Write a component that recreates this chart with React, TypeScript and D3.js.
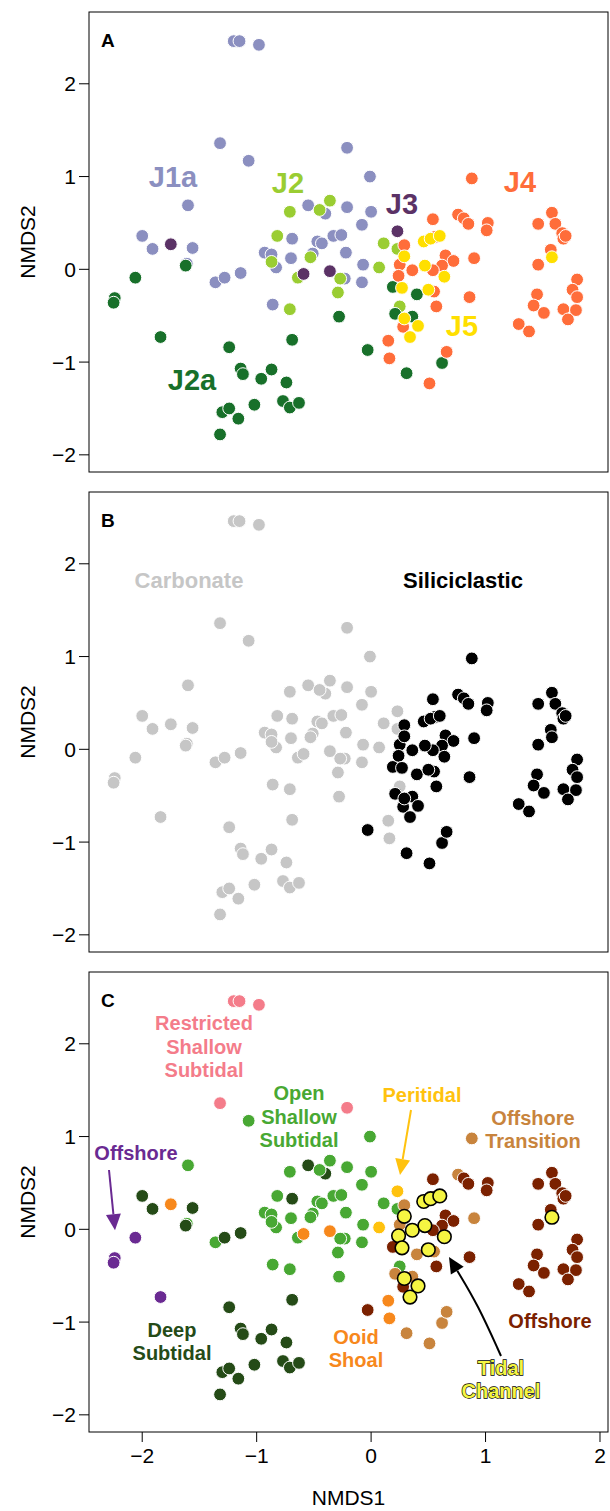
import { useEffect } from "react"
import * as d3 from "d3"

// [NMDS1, NMDS2, facies, lithology]
type Pt = [number, number, string, string]

const j1a: Pt[] = [
  [-1.2, 2.46, "R", "c"], [-1.15, 2.46, "R", "c"], [-0.98, 2.42, "R", "c"],
  [-1.32, 1.36, "R", "c"], [-1.07, 1.17, "O", "c"], [-0.21, 1.31, "R", "c"],
  [-1.6, 0.69, "O", "c"], [-0.55, 0.69, "D", "c"], [-0.4, 0.6, "D", "c"],
  [-0.21, 0.67, "O", "c"], [-2.0, 0.36, "D", "c"], [-1.91, 0.22, "D", "c"],
  [-1.56, 0.23, "D", "c"], [-1.61, 0.06, "O", "c"], [-0.69, 0.33, "D", "c"],
  [-0.47, 0.3, "O", "c"], [-0.43, 0.28, "O", "c"], [-0.33, 0.36, "O", "c"],
  [-0.26, 0.37, "O", "c"], [-1.36, -0.14, "O", "c"], [-1.28, -0.09, "D", "c"],
  [-1.14, -0.04, "D", "c"], [-0.93, 0.18, "O", "c"], [-0.87, 0.16, "O", "c"],
  [-0.7, 0.12, "O", "c"], [-0.51, 0.17, "O", "c"], [-0.83, 0.02, "O", "c"],
  [-0.23, -0.1, "O", "c"], [-0.22, 0.18, "O", "c"], [-0.86, -0.38, "O", "c"],
  [-0.01, 1.0, "O", "c"], [0.0, 0.62, "O", "c"], [-0.08, 0.48, "O", "c"],
  [-0.07, 0.05, "O", "c"], [-0.08, -0.14, "O", "c"],
]

const j2: Pt[] = [
  [-0.71, 0.62, "O", "c"], [-0.45, 0.64, "O", "c"], [-0.36, 0.74, "O", "c"],
  [-0.82, 0.36, "O", "c"], [-0.87, 0.08, "O", "c"], [-0.53, 0.13, "O", "c"],
  [-0.64, -0.09, "O", "c"], [-0.27, -0.1, "O", "c"], [-0.29, -0.25, "O", "c"],
  [-0.71, -0.43, "O", "c"], [0.07, 0.02, "P", "c"], [0.11, 0.28, "O", "c"],
  [0.23, 0.22, "O", "c"], [0.25, -0.4, "O", "c"],
]

const j2a: Pt[] = [
  [-1.62, 0.04, "D", "c"], [-2.06, -0.09, "W", "c"], [-2.24, -0.31, "W", "c"],
  [-2.25, -0.36, "W", "c"], [-1.84, -0.73, "W", "c"], [-1.24, -0.84, "D", "c"],
  [-1.14, -1.07, "D", "c"], [-1.12, -1.13, "D", "c"], [-0.96, -1.18, "D", "c"],
  [-0.87, -1.08, "D", "c"], [-0.74, -1.22, "D", "c"], [-1.02, -1.46, "D", "c"],
  [-0.77, -1.42, "D", "c"], [-0.71, -1.49, "D", "c"], [-0.63, -1.44, "D", "c"],
  [-1.3, -1.54, "D", "c"], [-1.24, -1.5, "D", "c"], [-1.16, -1.61, "D", "c"],
  [-1.32, -1.78, "D", "c"], [-0.28, -0.51, "O", "c"], [-0.69, -0.76, "D", "c"],
  [0.19, -0.19, "E", "s"], [0.4, -0.27, "T", "s"], [0.21, -0.48, "T", "s"],
  [0.36, -0.51, "T", "s"], [-0.03, -0.87, "E", "s"], [0.62, -1.01, "T", "s"],
  [0.31, -1.12, "T", "s"],
]

const j3: Pt[] = [
  [-1.75, 0.27, "S", "c"], [-0.59, -0.05, "S", "c"], [-0.36, -0.02, "S", "c"],
  [0.23, 0.41, "P", "c"],
]

const j4: Pt[] = [
  [0.88, 0.98, "T", "s"], [0.54, 0.54, "E", "s"], [0.76, 0.59, "T", "s"],
  [0.81, 0.55, "E", "s"], [0.85, 0.49, "E", "s"], [1.02, 0.5, "E", "s"],
  [1.01, 0.42, "E", "s"], [0.29, 0.26, "T", "s"], [0.25, 0.05, "T", "s"],
  [0.36, -0.01, "C", "s"], [0.65, 0.15, "E", "s"], [0.72, 0.09, "E", "s"],
  [0.62, 0.04, "E", "s"], [0.54, -0.01, "E", "s"], [0.9, 0.12, "T", "s"],
  [0.24, -0.07, "C", "s"], [0.55, -0.24, "T", "s"], [0.57, -0.4, "E", "s"],
  [0.86, -0.3, "E", "s"], [0.28, -0.62, "E", "s"], [0.15, -0.77, "S", "c"],
  [0.16, -0.96, "S", "c"], [0.66, -0.89, "T", "s"], [0.51, -1.23, "T", "s"],
  [0.56, 0.35, "E", "s"],
  [1.46, 0.49, "E", "s"], [1.58, 0.61, "E", "s"], [1.61, 0.49, "E", "s"],
  [1.67, 0.39, "E", "s"], [1.68, 0.33, "E", "s"], [1.7, 0.36, "E", "s"],
  [1.57, 0.21, "E", "s"], [1.46, 0.05, "E", "s"], [1.8, -0.11, "E", "s"],
  [1.76, -0.22, "E", "s"], [1.8, -0.3, "E", "s"], [1.45, -0.27, "E", "s"],
  [1.42, -0.39, "E", "s"], [1.51, -0.47, "E", "s"], [1.29, -0.59, "E", "s"],
  [1.38, -0.67, "E", "s"], [1.68, -0.43, "E", "s"], [1.79, -0.44, "E", "s"],
  [1.72, -0.54, "E", "s"],
]

const j5: Pt[] = [
  [0.29, 0.14, "C", "s"], [0.46, 0.3, "C", "s"], [0.52, 0.33, "C", "s"],
  [0.6, 0.36, "C", "s"], [0.47, 0.04, "C", "s"], [0.64, -0.08, "C", "s"],
  [0.27, -0.2, "C", "s"], [0.5, -0.22, "C", "s"], [0.29, -0.53, "C", "s"],
  [0.41, -0.61, "C", "s"], [0.34, -0.73, "C", "s"], [1.58, 0.13, "C", "s"],
]

const clusterNames = ["J1a", "J2", "J2a", "J3", "J4", "J5"]
const clusterData = [j1a, j2, j2a, j3, j4, j5]
const clusterColors = ["#8b8fc0", "#9acd32", "#18702a", "#5b3266", "#ff6d3a", "#ffdf00"]

const faciesColors: Record<string, string> = {
  R: "#f47c8a", O: "#48a833", W: "#6a2a92", D: "#254b17",
  S: "#f7881c", P: "#ffc20e", T: "#c8843d", E: "#7b2100", C: "#f5f542",
}
const lithColors: Record<string, string> = { c: "#c6c6c6", s: "#000000" }

const axisTicks = [-2, -1, 0, 1, 2]

const W = 610
const H = 1511
const left = 89
const right = 608
const panelTops = [12, 492, 972]
const panelH = 460
const font = "'Liberation Sans', Arial, Helvetica, sans-serif"

const x = d3.scaleLinear().domain([-2.465, 2.07]).range([left, right])
const yFor = (top: number) =>
  d3.scaleLinear().domain([-2.185, 2.774]).range([top + panelH, top])

function Arrow({ pts, color }: { pts: [number, number][]; color: string }) {
  const n = pts.length
  const [tx, ty] = pts[n - 1]
  const [px, py] = pts[n - 2]
  const a = Math.atan2(ty - py, tx - px)
  const len = 16
  const hw = 7.5
  const bx = tx - len * Math.cos(a)
  const by = ty - len * Math.sin(a)
  const head = [
    [tx, ty],
    [bx + hw * Math.sin(a), by - hw * Math.cos(a)],
    [bx - hw * Math.sin(a), by + hw * Math.cos(a)],
  ]
  const line = d3.line().curve(d3.curveBasis)(
    [...pts.slice(0, n - 1), [bx, by]] as [number, number][]
  )
  return (
    <g>
      <path d={line || ""} fill="none" stroke={color} strokeWidth={2} />
      <polygon points={head.map((p) => p.join(",")).join(" ")} fill={color} />
    </g>
  )
}

function Label({ lines, x0, y0, color, size, lh, outline }: {
  lines: string[]; x0: number; y0: number; color: string; size: number; lh?: number; outline?: boolean
}) {
  return (
    <text
      x={x0}
      y={y0}
      fill={color}
      fontSize={size}
      fontWeight="bold"
      fontFamily={font}
      textAnchor="middle"
      stroke={outline ? "#000" : "none"}
      strokeWidth={outline ? 1.3 : 0}
      style={{ paintOrder: "stroke" }}
    >
      {lines.map((l, i) => (
        <tspan key={i} x={x0} dy={i === 0 ? 0 : lh}>{l}</tspan>
      ))}
    </text>
  )
}

function Panel({ idx }: { idx: number }) {
  const top = panelTops[idx]
  const y = yFor(top)
  const pts: { p: Pt; c: number }[] = []
  clusterData.forEach((arr, c) => arr.forEach((p) => pts.push({ p, c })))
  // tidal channel samples go on top in panel C
  const ordered = idx === 2
    ? [...pts.filter((d) => d.p[2] !== "C"), ...pts.filter((d) => d.p[2] === "C")]
    : pts
  return (
    <g>
      <rect x={left} y={top} width={right - left} height={panelH} fill="none" stroke="#000" strokeWidth={1} />
      {axisTicks.map((t) => (
        <g key={t}>
          <line x1={left - 10} x2={left} y1={y(t)} y2={y(t)} stroke="#000" />
          <text x={left - 13} y={y(t)} dy="0.36em" textAnchor="end" fontSize={21} fontFamily={font}>
            {t < 0 ? `\u2212${-t}` : t}
          </text>
        </g>
      ))}
      <text
        transform={`translate(35,${top + panelH / 2}) rotate(-90)`}
        textAnchor="middle"
        fontSize={21}
        fontFamily={font}
      >
        NMDS2
      </text>
      <text x={101} y={top + 35} fontSize={19} fontWeight="bold" fontFamily={font}>
        {"ABC"[idx]}
      </text>
      {ordered.map((d, i) => {
        const [vx, vy, fac, lith] = d.p
        const tidal = idx === 2 && fac === "C"
        const fill = idx === 0 ? clusterColors[d.c] : idx === 1 ? lithColors[lith] : faciesColors[fac]
        return (
          <circle
            key={i}
            cx={x(vx)}
            cy={y(vy)}
            r={tidal ? 6.8 : 6.4}
            fill={fill}
            stroke={tidal ? "#000" : "#fff"}
            strokeWidth={tidal ? 1.6 : 1}
          />
        )
      })}
    </g>
  )
}

export default function App() {
  useEffect(() => {
    document.body.style.margin = "0"
  }, [])
  const yC = yFor(panelTops[2])
  const bottom = panelTops[2] + panelH
  return (
    <svg width={W} height={H} style={{ display: "block", background: "#fff" }}>
      <Panel idx={0} />
      <Panel idx={1} />
      <Panel idx={2} />

      {/* x axis */}
      {axisTicks.map((t) => (
        <g key={t}>
          <line x1={x(t)} x2={x(t)} y1={bottom} y2={bottom + 10} stroke="#000" />
          <text x={x(t)} y={bottom + 31} textAnchor="middle" fontSize={21} fontFamily={font}>
            {t < 0 ? `\u2212${-t}` : t}
          </text>
        </g>
      ))}
      <text x={(left + right) / 2} y={1505} textAnchor="middle" fontSize={21} fontFamily={font}>
        NMDS1
      </text>

      {/* panel A labels */}
      <Label lines={[clusterNames[0]]} x0={173} y0={187} color={clusterColors[0]} size={29} />
      <Label lines={[clusterNames[1]]} x0={288} y0={193} color={clusterColors[1]} size={29} />
      <Label lines={[clusterNames[2]]} x0={192} y0={390} color={clusterColors[2]} size={29} />
      <Label lines={[clusterNames[3]]} x0={402} y0={214} color={clusterColors[3]} size={29} />
      <Label lines={[clusterNames[4]]} x0={520} y0={192} color={clusterColors[4]} size={29} />
      <Label lines={[clusterNames[5]]} x0={462} y0={336} color={clusterColors[5]} size={29} />

      {/* panel B labels */}
      <Label lines={["Carbonate"]} x0={189} y0={588} color={lithColors.c} size={22} />
      <Label lines={["Siliciclastic"]} x0={463} y0={588} color={lithColors.s} size={22} />

      {/* panel C labels */}
      <Label lines={["Restricted", "Shallow", "Subtidal"]} x0={204} y0={1030} color={faciesColors.R} size={20} lh={23.5} />
      <Label lines={["Open", "Shallow", "Subtidal"]} x0={299} y0={1100} color={faciesColors.O} size={20} lh={23.5} />
      <Label lines={["Offshore"]} x0={136} y0={1160} color={faciesColors.W} size={20} />
      <Label lines={["Peritidal"]} x0={422} y0={1102} color={faciesColors.P} size={20} />
      <Label lines={["Offshore", "Transition"]} x0={533} y0={1125} color={faciesColors.T} size={20} lh={23} />
      <Label lines={["Deep", "Subtidal"]} x0={172} y0={1337} color={faciesColors.D} size={20} lh={22.5} />
      <Label lines={["Ooid", "Shoal"]} x0={356} y0={1344} color={faciesColors.S} size={20} lh={23} />
      <Label lines={["Tidal", "Channel"]} x0={501} y0={1375} color={faciesColors.C} size={20} lh={22.5} outline />
      <Label lines={["Offshore"]} x0={550} y0={1328} color={faciesColors.E} size={20} />

      <Arrow pts={[[109, 1170], [115, yC(-0.01)]]} color={faciesColors.W} />
      <Arrow pts={[[411, 1110], [400, 1175]]} color={faciesColors.P} />
      <Arrow pts={[[501, 1356], [478, 1305], [449, 1257]]} color="#000" />
    </svg>
  )
}
